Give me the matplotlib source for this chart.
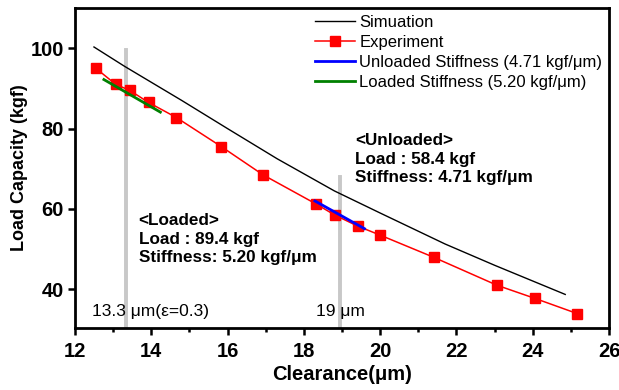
import matplotlib
matplotlib.use("Agg")
import matplotlib.pyplot as plt
from matplotlib.ticker import MultipleLocator

plt.rcParams['font.family'] = ['Liberation Sans', 'DejaVu Sans']

# simulation curve
sim_x = [12.5, 13.3, 14.8, 16.0, 17.3, 18.8, 20.0, 21.7, 23.0, 24.85]
sim_y = [100.3, 95.5, 87.0, 80.0, 72.5, 64.5, 59.0, 51.3, 46.0, 38.75]

# experiment points
exp_x = [12.55, 13.07, 13.44, 13.93, 14.66, 15.84, 16.93, 18.32, 18.81, 19.41,
         20.0, 21.4, 23.07, 24.06, 25.16]
exp_y = [95.0, 91.0, 89.5, 86.5, 82.75, 75.5, 68.5, 61.25, 58.5, 55.75,
         53.5, 48.0, 41.0, 37.75, 34.0]

# stiffness fit lines
unloaded_x = [18.29, 19.59]
unloaded_y = [62.0, 55.1]
loaded_x = [12.76, 14.24]
loaded_y = [92.2, 84.1]

# reference clearances
ref_x = [13.35, 18.95]
ref_top = [99.6, 68.0]

fig = plt.figure(figsize=(6.19, 3.9), dpi=100)
ax = fig.add_axes([0.121, 0.159, 0.863, 0.8205])

for xv, top in zip(ref_x, ref_top):
    ax.plot([xv, xv], [25, top], color='#c8c8c8', lw=2.8, zorder=1)

ax.plot(sim_x, sim_y, color='black', lw=1, label='Simuation', zorder=2)
ax.plot(exp_x, exp_y, color='red', lw=1.1, marker='s', ms=6.5, label='Experiment', zorder=3)
ax.plot(unloaded_x, unloaded_y, color='blue', lw=2, label='Unloaded Stiffness (4.71 kgf/μm)', zorder=4)
ax.plot(loaded_x, loaded_y, color='green', lw=2, label='Loaded Stiffness (5.20 kgf/μm)', zorder=4)

ax.set_xlim(12, 26)
ax.set_ylim(30.4, 110)
ax.xaxis.set_major_locator(MultipleLocator(2))
ax.xaxis.set_minor_locator(MultipleLocator(1))
ax.yaxis.set_major_locator(MultipleLocator(20))
ax.tick_params(which='major', direction='out', length=5, width=1.8, labelsize=14.5, pad=3)
ax.tick_params(axis='x', which='major', pad=5)
ax.tick_params(which='minor', direction='out', length=3, width=1.8)
for lbl in ax.get_xticklabels() + ax.get_yticklabels():
    lbl.set_fontweight('bold')
for sp in ax.spines.values():
    sp.set_linewidth(2)

ax.set_xlabel('Clearance(μm)', fontsize=14.5, fontweight='bold', labelpad=3)
ax.set_ylabel('Load Capacity (kgf)', fontsize=13, fontweight='bold', labelpad=2)

leg = ax.legend(loc='upper right', frameon=False, fontsize=12, handlelength=2.4,
                handletextpad=0.25, labelspacing=0.3, borderaxespad=0.0,
                bbox_to_anchor=(1.0, 1.0))

ax.text(19.34, 78.9, '<Unloaded>\nLoad : 58.4 kgf\nStiffness: 4.71 kgf/μm',
        fontsize=12.3, fontweight='bold', va='top', ha='left', linespacing=1.3)
ax.text(13.67, 59.0, '<Loaded>\nLoad : 89.4 kgf\nStiffness: 5.20 kgf/μm',
        fontsize=12.3, fontweight='bold', va='top', ha='left', linespacing=1.3)
ax.text(12.45, 34.4, '13.3 μm(ε=0.3)', fontsize=12.5, va='center', ha='left')
ax.text(18.33, 34.4, '19 μm', fontsize=12.5, va='center', ha='left')

fig.savefig('out.png', dpi=100)
